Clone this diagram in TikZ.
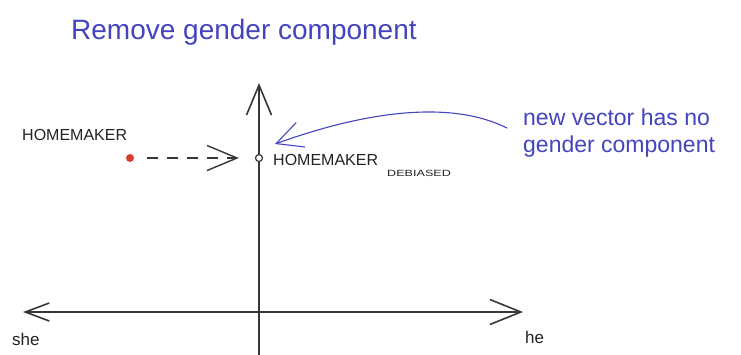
\documentclass[tikz,border=0pt]{standalone}
\usepackage{fontspec}
\setmainfont{Liberation Sans}
\usetikzlibrary{arrows.meta}
\definecolor{inkblue}{RGB}{68,68,190}
\definecolor{axisgray}{RGB}{55,55,55}
\definecolor{dotred}{RGB}{215,60,45}
\definecolor{labelink}{RGB}{35,35,35}
\tikzset{
  axisline/.style={draw=axisgray, line width=1.6pt, line cap=round},
  smalllabel/.style={inner sep=0pt, text=labelink, font=\fontsize{16}{18}\selectfont},
  sublabel/.style={inner sep=0pt, text=labelink, font=\fontsize{9}{10}\selectfont},
  axislabel/.style={inner sep=0pt, text=labelink, font=\fontsize{17}{20}\selectfont},
  notetext/.style={inner sep=0pt, text=inkblue, font=\fontsize{23}{27}\selectfont},
  titletext/.style={inner sep=0pt, text=inkblue, font=\fontsize{28}{32}\selectfont},
  reddot/.style={circle, fill=dotred, draw=none, minimum size=8pt, inner sep=0pt},
  origdot/.style={circle, draw=axisgray, fill=white, line width=1.2pt, minimum size=7pt, inner sep=0pt},
  movearrow/.style={draw=axisgray, line width=1.4pt, dash pattern=on 11pt off 9pt,
    -{Straight Barb[length=30pt, width=25pt, line width=1.4pt]}},
  notearrow/.style={draw=inkblue, line width=1.1pt, line cap=round,
    -{Straight Barb[length=26pt, width=26pt, line width=1.1pt]}}
}
\begin{document}
\begin{tikzpicture}[x=1pt, y=-1pt]
\useasboundingbox[fill=white] (0,0) rectangle (741,354);
% title
\node[titletext, anchor=base west] (title) at (71,39) {Remove gender component};
% axes
\coordinate (ytop) at (259,83);
\coordinate (ybot) at (259,356);
\coordinate (xleft) at (23,312);
\coordinate (xright) at (523,312);
\draw[axisline, -{Straight Barb[length=30pt, width=25pt, line width=1.6pt]}] (ybot) -- (ytop);
\draw[axisline, {Straight Barb[length=24pt, width=18pt, line width=1.6pt]}-{Straight Barb[length=31pt, width=25pt, line width=1.6pt]}] (xleft) -- (xright);
\node[axislabel, anchor=base west] (she) at (12,345) {she};
\node[axislabel, anchor=base west] (he) at (525,343) {he};
% points
\node[reddot] (hm) at (130,158) {};
\node[origdot] (hmd) at (259,158) {};
\draw[movearrow, shorten <=13pt, shorten >=16pt] (hm) -- (hmd);
\node[smalllabel, anchor=base west] (hmlabel) at (22,140) {HOMEMAKER};
\node[smalllabel, anchor=base west] (hmdlabel) at (273,165) {HOMEMAKER};
\node[sublabel, anchor=base west] (sub) at (387,176) {\scalebox{1.4}[1]{DEBIASED}};
% note
\node[notetext, anchor=base west] (note1) at (523,125) {new vector has no};
\node[notetext, anchor=base west] (note2) at (523,152) {gender component};
\coordinate (arrowstart) at (507,128);
\coordinate (arrowend) at (275,144);
\draw[notearrow] (arrowstart) .. controls (455,102) and (375,108) .. (arrowend);
\end{tikzpicture}
\end{document}
